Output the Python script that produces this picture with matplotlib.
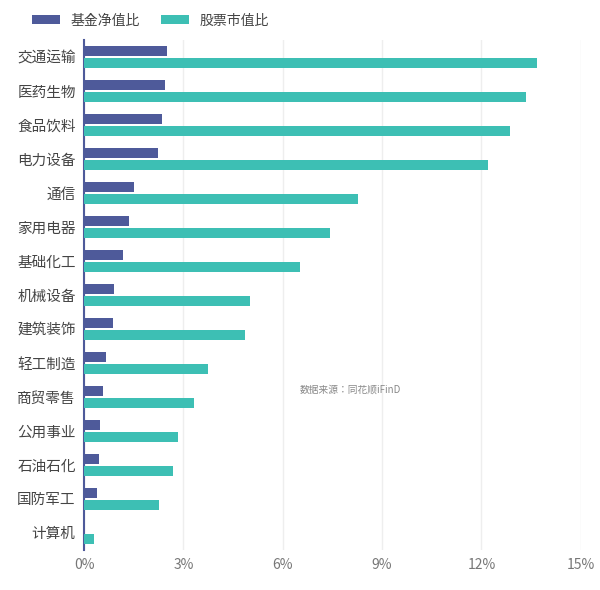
import matplotlib.pyplot as plt
import numpy as np
from matplotlib import font_manager

cands = [f.name for f in font_manager.fontManager.ttflist if 'CJK' in f.name]
plt.rcParams['font.family'] = 'sans-serif'
plt.rcParams['font.sans-serif'] = sorted(set(cands)) + ['Noto Sans CJK SC', 'Noto Sans CJK JP', 'DejaVu Sans']

industries = ['交通运输', '医药生物', '食品饮料', '电力设备', '通信', '家用电器', '基础化工',
              '机械设备', '建筑装饰', '轻工制造', '商贸零售', '公用事业', '石油石化', '国防军工', '计算机']
fund_ratio = [2.50, 2.45, 2.35, 2.23, 1.50, 1.36, 1.18, 0.90, 0.88, 0.66, 0.57, 0.48, 0.45, 0.39, 0.0]
stock_ratio = [13.67, 13.35, 12.86, 12.20, 8.27, 7.43, 6.52, 5.01, 4.86, 3.74, 3.32, 2.84, 2.69, 2.26, 0.30]
xticks = [0, 3, 6, 9, 12, 15]

fig = plt.figure(figsize=(6, 5.9), dpi=100)
ax = fig.add_axes([0.14, 0.068, 0.828, 0.864])

y = np.arange(len(industries))
h = 0.3
ax.barh(y - h / 2 - 0.02, fund_ratio, height=h, color='#4e5a9a', label='基金净值比', zorder=3)
ax.barh(y + h / 2 + 0.02, stock_ratio, height=h, color='#3dbfb4', label='股票市值比', zorder=3)

ax.set_ylim(len(industries) - 0.5, -0.5)
ax.set_yticks(y)
ax.set_yticklabels(industries, fontsize=10.5, color='#444444')
ax.set_xlim(0, 15)
ax.set_xticks(xticks)
ax.set_xticklabels([f'{v}%' for v in xticks], fontsize=10, color='#777777')
ax.grid(axis='x', color='#eeeeee', linewidth=1, zorder=0)
for s in ['top', 'right', 'bottom']:
    ax.spines[s].set_visible(False)
ax.spines['left'].set_color('#4e5a9a')
ax.spines['left'].set_linewidth(1.5)
ax.tick_params(axis='both', length=0, pad=6)

fig.text(0.5, 0.335, '数据来源：同花顺iFinD', fontsize=7, color='#888888')
ax.legend(loc='lower left', bbox_to_anchor=(-0.13, 1.0), ncol=2, frameon=False,
          fontsize=10, handlelength=2, handleheight=0.6, columnspacing=1.5,
          labelcolor='#444444')

fig.savefig('out.png', dpi=100)
